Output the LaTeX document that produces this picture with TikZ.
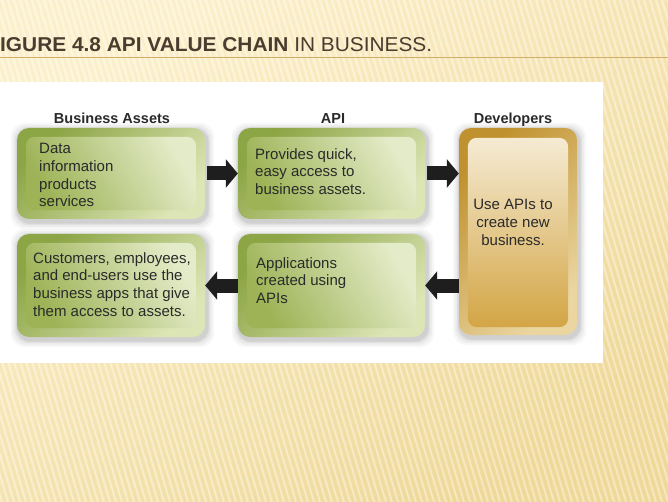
\documentclass[tikz,border=0pt]{standalone}
\usepackage{fontspec}
\usepackage{graphicx}
\setmainfont{Liberation Sans}
\usetikzlibrary{arrows.meta,calc}
\definecolor{bgtop}{HTML}{FDF2CF}
\definecolor{bgbot}{HTML}{F0DA9C}
\definecolor{titlecol}{HTML}{4A3C2E}
\definecolor{rulecol}{HTML}{D2AD6A}
\definecolor{gfD}{HTML}{8CA545}
\definecolor{gfL}{HTML}{DCE5B5}
\definecolor{giD}{HTML}{9DB356}
\definecolor{giL}{HTML}{E4EBC8}
\definecolor{ofD}{HTML}{C0922F}
\definecolor{ofL}{HTML}{EBD6A2}
\definecolor{oiT}{HTML}{F5EBD3}
\definecolor{oiM}{HTML}{EBD39A}
\definecolor{oiB}{HTML}{D3A545}
\definecolor{txt}{HTML}{2A2A2A}
\definecolor{arrowcol}{HTML}{1E1E1E}
\pgfdeclarelayer{bglayer}
\pgfdeclarelayer{shadowlayer}
\pgfsetlayers{bglayer,shadowlayer,main}
\newcommand\mkshadow[1]{%
  \begin{pgfonlayer}{shadowlayer}
  \foreach \k/\o in {7/0.03,5/0.04,3/0.05,1.5/0.07}
    \fill[black,opacity=\o,rounded corners=14pt]
      ($(#1.north west)+(-\k+1,-\k+2)$) rectangle ($(#1.south east)+(\k+2,\k+3)$);
  \end{pgfonlayer}}
\newcommand\mkgreenpanel[1]{%
  \shade[rounded corners=9pt, top color=giL, bottom color=giD, shading angle=-60]
    ($(#1.north west)+(9,9)$) rectangle ($(#1.south east)+(-9,-9)$);}
\newcommand\mkgoldpanel[1]{%
  \shade[rounded corners=9pt, top color=oiT, middle color=oiM, bottom color=oiB]
    ($(#1.north west)+(9,10)$) rectangle ($(#1.south east)+(-9,-8)$);}
\tikzset{
  greenbox/.style={rectangle, rounded corners=12pt, inner sep=0pt,
    top color=gfD, bottom color=gfL, shading angle=45},
  goldbox/.style={rectangle, rounded corners=12pt, inner sep=0pt,
    top color=ofD, bottom color=ofL, shading angle=45},
  bodytext/.style={anchor=north west, inner sep=0pt, align=left,
    font=\fontsize{15}{17.8}\selectfont, text=txt},
  headtext/.style={anchor=base, inner sep=0pt,
    font=\fontsize{14.5}{17}\selectfont\bfseries, text=txt},
  fatarrow/.style={draw=arrowcol, line width=14pt,
    -{Triangle[width=28pt,length=12pt]}}
}
\begin{document}
\begin{tikzpicture}[x=1pt,y=-1pt]
\useasboundingbox (0,0) rectangle (668,502);
\begin{pgfonlayer}{bglayer}
  \shade[top color=bgtop, bottom color=bgbot, shading angle=35] (0,0) rectangle (668,502);
  \begin{scope}
    \clip (0,0) rectangle (668,502);
    \foreach \i in {-160,-154,...,680}
      \draw[white,opacity=0.4,line width=1.6pt] (\i,0) -- (\i+150,502);
    \foreach \i in {-157,-151,...,683}
      \draw[rulecol,opacity=0.08,line width=0.8pt] (\i,0) -- (\i+150,502);
  \end{scope}
  \fill[white] (0,82) rectangle (603,363);
\end{pgfonlayer}

% title and rule
\draw[rulecol, line width=1pt] (0,57.5) -- (668,57.5);
\node[anchor=base west, inner sep=0pt, text=titlecol] (title) at (0,52)
  {\resizebox{432pt}{14pt}{\bfseries IGURE 4.8 API VALUE CHAIN \mdseries IN BUSINESS.}};

% column headers
\node[headtext] (hba) at (112,123.7) {Business Assets};
\node[headtext] (hapi) at (333,123.7) {API};
\node[headtext] (hdev) at (513,123.7) {Developers};

% boxes
\node[greenbox, minimum width=188pt, minimum height=91pt] (ba) at (111,173.5) {};
\node[greenbox, minimum width=187pt, minimum height=91pt] (api1) at (331.5,173.5) {};
\node[goldbox, minimum width=118pt, minimum height=207pt] (dev) at (518,231.5) {};
\node[greenbox, minimum width=188pt, minimum height=103pt] (cu) at (111,285.5) {};
\node[greenbox, minimum width=187pt, minimum height=103pt] (api2) at (331.5,285.5) {};

\mkshadow{ba}\mkshadow{api1}\mkshadow{dev}\mkshadow{cu}\mkshadow{api2}
\mkgreenpanel{ba}\mkgreenpanel{api1}\mkgreenpanel{cu}\mkgreenpanel{api2}
\mkgoldpanel{dev}

% texts
\node[bodytext] (t1) at (39,143) {Data\\information\\products\\services};
\node[bodytext] (t2) at (255,148) {Provides quick,\\easy access to\\business assets.};
\node[bodytext] (t3) at (33,252) {Customers, employees,\\and end-users use the\\business apps that give\\them access to assets.};
\node[bodytext] (t4) at (256,257) {Applications\\created using\\APIs};
\node[bodytext, anchor=north, align=center] (t5) at (513,199) {Use APIs to\\create new\\business.};

% connectors
\draw[fatarrow, shorten <=2pt] (ba.east) -- (api1.west);
\draw[fatarrow, shorten <=2pt] (api1.east) -- (api1.east -| dev.west);
\draw[fatarrow] (dev.west |- api2.east) -- (api2.east);
\draw[fatarrow] (api2.west) -- (cu.east);
\end{tikzpicture}
\end{document}
